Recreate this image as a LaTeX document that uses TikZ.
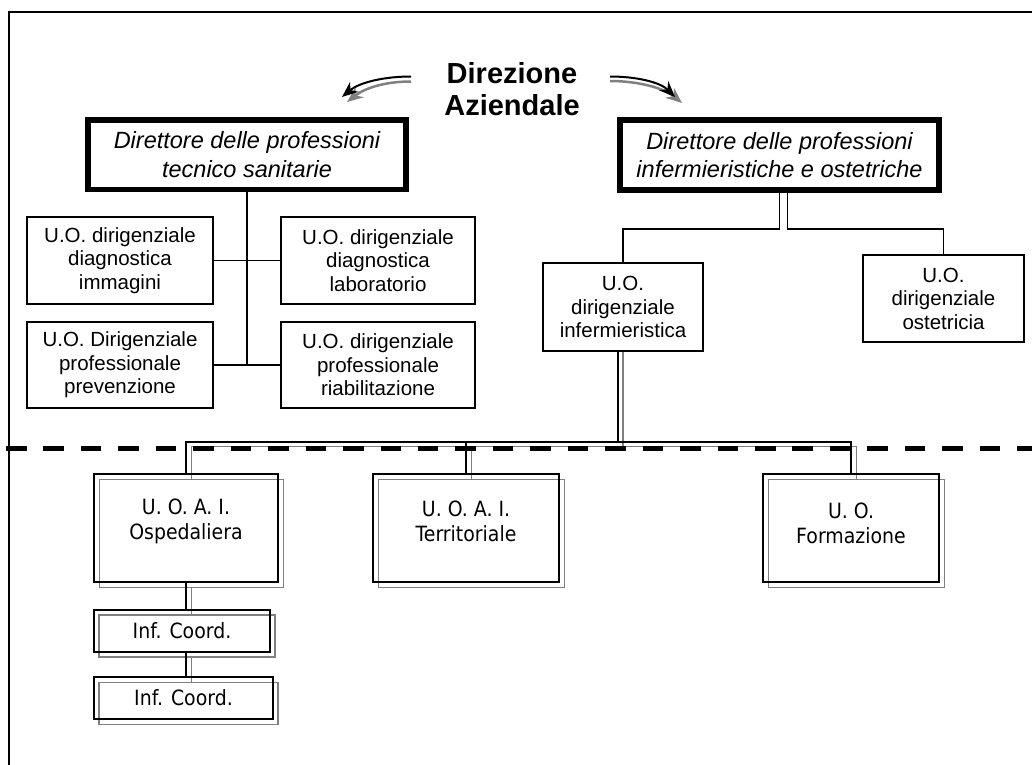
\documentclass[tikz,border=0pt]{standalone}
\usepackage{fontspec}
\setmainfont{Liberation Sans}
\newfontfamily\lowfont[FakeStretch=0.9]{DejaVu Sans}
\usetikzlibrary{arrows.meta}

\begin{document}
\begin{tikzpicture}[x=1pt,y=-1pt,
  headbox/.style={draw, line width=5.5pt, inner sep=0pt, align=center,
    font=\fontsize{23.5}{28.5}\selectfont\itshape},
  unitbox/.style={draw, line width=1.8pt, inner sep=0pt, align=center,
    font=\fontsize{20.5}{23.5}\selectfont},
  conn/.style={line width=1.8pt},
  gconn/.style={line width=1.8pt, draw=gray},
  blackbox/.style={draw, line width=1.8pt, inner sep=0pt},
  shadowbox/.style={draw=gray, line width=1.8pt, inner sep=0pt},
  lowtext/.style={align=center, inner sep=0pt,
    font=\lowfont\fontsize{21}{25}\selectfont},
  coordbox/.style={blackbox, align=center,
    font=\lowfont\fontsize{21}{25}\selectfont},
  curvedarrow/.style={line width=2pt, -{Stealth[length=16pt,width=13pt]}},
]
\useasboundingbox (0,0) rectangle (1032,764);
\clip (0,0) rectangle (1032,764);

% page frame
\draw[line width=2pt] (8.5,11.5) rectangle (1045,785);

% title and the two curved arrows
\node[font=\fontsize{29}{32}\selectfont\bfseries, align=center] (dir) at (512,89.5) {Direzione\\Aziendale};
\coordinate (la0) at (411,81.5);  \coordinate (la1) at (347,102);
\coordinate (lb0) at (411,76.5);  \coordinate (lb1) at (342,97);
\coordinate (ra0) at (610,81);    \coordinate (ra1) at (682,103);
\coordinate (rb0) at (610,76.5);  \coordinate (rb1) at (675,97);
\draw[curvedarrow, gray, line width=2.5pt] (la0) .. controls (385,81.5) and (365,88) .. (la1);
\draw[curvedarrow] (lb0) .. controls (385,76.5) and (360,82) .. (lb1);
\draw[curvedarrow, gray, line width=2.5pt] (ra0) .. controls (638,81) and (664,88) .. (ra1);
\draw[curvedarrow] (rb0) .. controls (636,76.5) and (660,82) .. (rb1);

% the two directors
\node[headbox, minimum width=318, minimum height=69.5] (dl) at (247,154.75)
  {Direttore delle professioni\\tecnico sanitarie};
\node[headbox, minimum width=319, minimum height=70] (dr) at (779.5,155)
  {Direttore delle professioni\\infermieristiche e ostetriche};

% technical-sanitary units
\node[unitbox, minimum width=186, minimum height=87] (d1) at (120,260.5)
  {U.O. dirigenziale\\diagnostica\\immagini};
\node[unitbox, minimum width=194, minimum height=87] (d2) at (378,260.5)
  {U.O. dirigenziale\\diagnostica\\laboratorio};
\node[unitbox, minimum width=186, minimum height=86] (d3) at (120,365)
  {U.O. Dirigenziale\\professionale\\prevenzione};
\node[unitbox, minimum width=194, minimum height=86] (d4) at (378,365)
  {U.O. dirigenziale\\professionale\\riabilitazione};
\draw[conn] (dl.south) -- (dl.south |- d3.east);
\draw[conn] (d1.east) -- (d2.west);
\draw[conn] (d3.east) -- (d4.west);

% nursing and obstetric units
\node[unitbox, minimum width=160, minimum height=88] (inf) at (623,307)
  {U.O.\\dirigenziale\\infermieristica};
\node[unitbox, minimum width=161, minimum height=87] (ost) at (943.5,298.5)
  {U.O.\\dirigenziale\\ostetricia};
\draw[conn] (dr.south) -- ++(0,36.5) -| (inf.north);
\draw[conn] ([xshift=8pt]dr.south) -- ++(0,36.5) -| (ost.north);

% operational units: grey shadow frames first
\node[shadowbox, minimum width=184, minimum height=108] (gb1) at (191.5,533.5) {};
\node[shadowbox, minimum width=186, minimum height=108] (gb2) at (471.5,533.5) {};
\node[shadowbox, minimum width=176, minimum height=108] (gb3) at (856.5,533.5) {};
\node[shadowbox, minimum width=176, minimum height=42] (gc1) at (187,636) {};
\node[shadowbox, minimum width=179, minimum height=42] (gc2) at (188.5,703.5) {};

\coordinate (busb) at (0,442);
\coordinate (busg) at (0,446.5);

% grey connectors
\draw[gconn] (inf.south) -- (inf.south |- busg);
\draw[gconn] (gb1.north) -- (gb1.north |- busg) -- (gb3.north |- busg) -- (gb3.north);
\draw[gconn] (gb2.north) -- (gb2.north |- busg);
\draw[gconn] (gb1.south) -- (gb1.south |- gc1.north);
\draw[gconn] (gb1.south |- gc1.south) -- (gb1.south |- gc2.north);

% black frames
\node[blackbox, minimum width=184, minimum height=108] (ob1) at (186,528) {};
\node[blackbox, minimum width=186, minimum height=108] (ob2) at (466,528) {};
\node[blackbox, minimum width=176, minimum height=108] (ob3) at (851,528) {};
\node[coordbox, minimum width=176, minimum height=42] (ic1) at (182,631) {Inf. Coord.};
\node[coordbox, minimum width=179, minimum height=42] (ic2) at (183.5,698) {Inf. Coord.};

\node[lowtext] (t1) at (186,521) {U. O. A. I.\\Ospedaliera};
\node[lowtext] (t2) at (466,521) {U. O. A. I.\\Territoriale};
\node[lowtext] (t3) at (851,523.5) {U. O.\\Formazione};

% black connectors
\draw[conn] ([xshift=-5pt]inf.south) -- ([xshift=-5pt]inf.south |- busb);
\draw[conn] (ob1.north) -- (ob1.north |- busb) -- (ob3.north |- busb) -- (ob3.north);
\draw[conn] (ob2.north) -- (ob2.north |- busb);
\draw[conn] (ob1.south) -- (ob1.south |- ic1.north);
\draw[conn] (ob1.south |- ic1.south) -- (ob1.south |- ic2.north);

% dashed boundary line
\draw[line width=5pt, dash pattern=on 20.5pt off 16.95pt] (6,448.5) -- (1045,448.5);
\end{tikzpicture}
\end{document}
